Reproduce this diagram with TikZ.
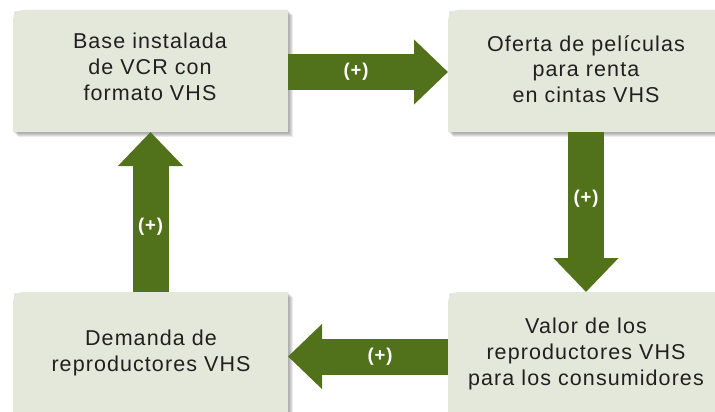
\documentclass[tikz,border=0pt]{standalone}
\usepackage{fontspec}
\setmainfont{Liberation Sans}[LetterSpace=5]
\usetikzlibrary{arrows.meta}
\definecolor{boxfill}{HTML}{E3E8DA}
\definecolor{arrowgreen}{HTML}{51711A}
\definecolor{txt}{HTML}{231F20}
\tikzset{
  boxnode/.style={rectangle, inner sep=0pt, outer sep=0pt},
  boxtext/.style={align=center, text=txt, inner sep=0pt, font=\fontsize{21.5}{25.8}\selectfont},
  plus/.style={text=white, inner sep=0pt, font=\bfseries\fontsize{18.5}{20}\selectfont},
  blockarrow/.style={draw=arrowgreen, line width=36pt,
     -{Triangle[length=34pt,width=63pt,color=arrowgreen]}},
}
\newcommand{\boxshadow}[1]{%
  \foreach \i in {1,...,5}{%
    \fill[black, opacity=0.08] ([shift={(\i,\i)}]#1.north west) rectangle ([shift={(\i,\i)}]#1.south east);}%
  \fill[boxfill] (#1.south west) [rounded corners=10pt] -- (#1.north west) [sharp corners] -- (#1.north east) -- (#1.south east) -- cycle;}
\begin{document}
\begin{tikzpicture}[x=1pt,y=-1pt]
\useasboundingbox (0,0) rectangle (715,412);
\clip (0,0) rectangle (715,412);
\fill[white] (0,0) rectangle (715,412);
% boxes
\node[boxnode, minimum width=275pt, minimum height=122pt] (b1) at (150.5,71) {};
\node[boxnode, minimum width=275pt, minimum height=122pt] (b2) at (585.5,71) {};
\node[boxnode, minimum width=275pt, minimum height=130pt] (b3) at (150.5,357) {};
\node[boxnode, minimum width=275pt, minimum height=130pt] (b4) at (585.5,357) {};
\boxshadow{b1}
\boxshadow{b2}
\boxshadow{b3}
\boxshadow{b4}
% texts
\node[boxtext] (t1) at (150,67) {Base instalada\\de VCR con\\formato VHS};
\node[boxtext] (t2) at (586,69) {Oferta de películas\\para renta\\en cintas VHS};
\node[boxtext] (t3) at (151,353) {Demanda de\\reproductores VHS};
\node[boxtext] (t4) at (586,354) {Valor de los\\reproductores VHS\\para los consumidores};
% arrows
\draw[blockarrow] (b1.east |- 0,72) -- node[plus, pos=0.425] {(+)} (b2.west |- 0,72);
\draw[blockarrow] (586,0 |- b2.south) -- node[plus, pos=0.42] {(+)} (586,0 |- b4.north);
\draw[blockarrow] (b4.west |- 0,356.5) -- node[plus, pos=0.425] {(+)} (b3.east |- 0,356.5);
\draw[blockarrow] (150.5,0 |- b3.north) -- node[plus, pos=0.406] {(+)} (150.5,0 |- b1.south);
\end{tikzpicture}
\end{document}
